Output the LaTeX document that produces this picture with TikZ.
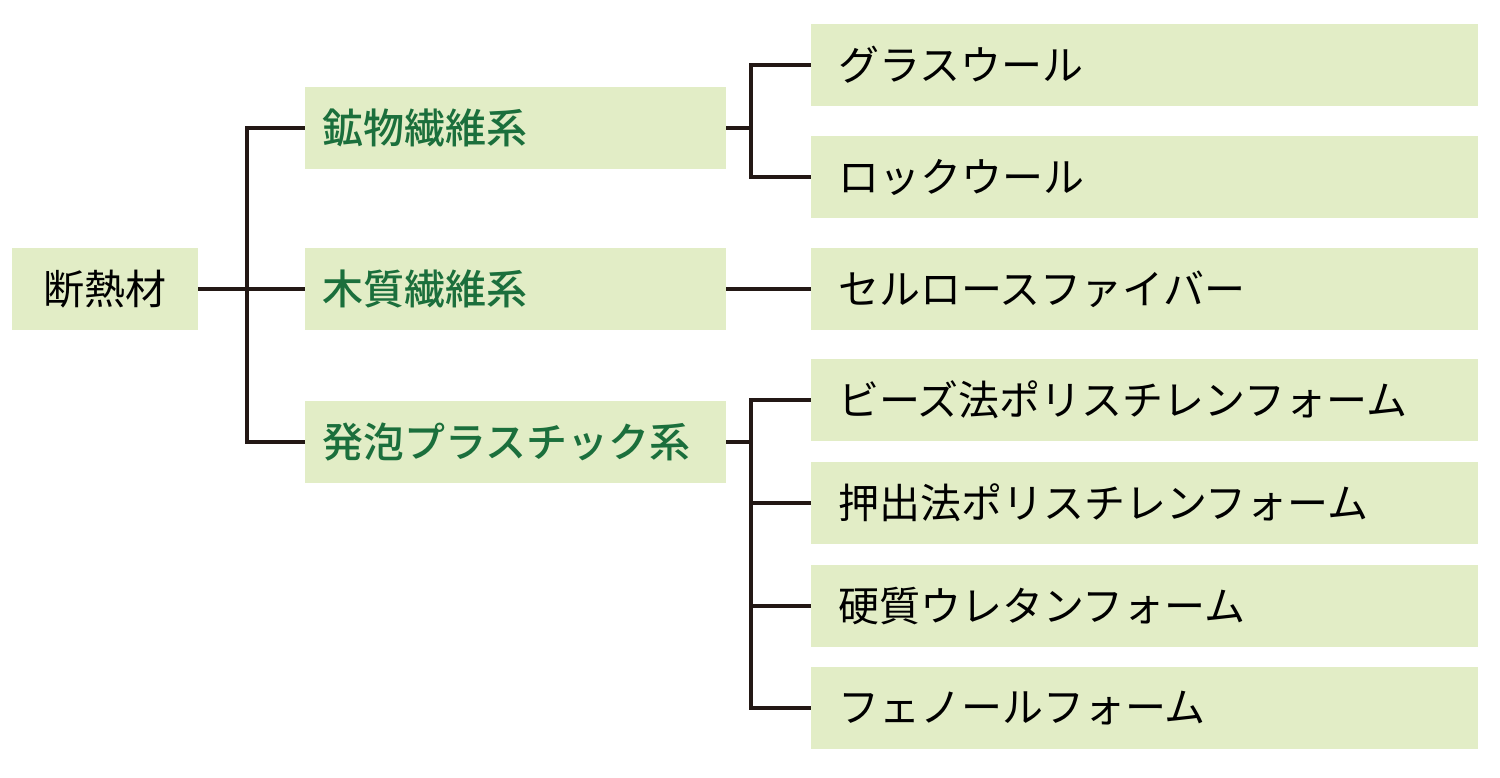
\documentclass[tikz,border=0pt]{standalone}
\usepackage{fontspec}
\newfontfamily\jpfont{Noto Sans CJK JP}
\newfontfamily\jpmedfont{Noto Sans CJK JP}[UprightFont=* Medium]
\usetikzlibrary{positioning}

\definecolor{boxgreen}{HTML}{E2EDC6}
\definecolor{textgreen}{HTML}{1B6F3C}
\definecolor{linedark}{HTML}{231815}

\begin{document}
\begin{tikzpicture}[x=1pt,y=-1pt,
    box/.style={fill=boxgreen,minimum height=82pt,inner sep=0pt,
      font=\jpfont\fontsize{41}{50}\selectfont},
    rootbox/.style={box,minimum width=186pt},
    midbox/.style={box,text width=387pt,inner xsep=17pt,align=left,
      text=textgreen,font=\jpmedfont\fontsize{41}{50}\selectfont},
    leafbox/.style={box,text width=613pt,inner xsep=27pt,align=left},
    link/.style={draw=linedark,line width=3.2pt}]
  \useasboundingbox (0,0) rectangle (1500,778);

  % boxes
  \node[rootbox] (root) at (105,289) {断熱材};
  \node[midbox] (mineral) at (515.5,128) {鉱物繊維系};
  \node[midbox] (wood) at (515.5,289) {木質繊維系};
  \node[midbox] (foam) at (515.5,442) {発泡プラスチック系};

  \node[leafbox] (glass) at (1144.5,65) {グラスウール};
  \node[leafbox] (rock) at (1144.5,177) {ロックウール};
  \node[leafbox] (cellu) at (1144.5,289) {セルロースファイバー};
  \node[leafbox] (beads) at (1144.5,400) {ビーズ法ポリスチレンフォーム};
  \node[leafbox] (extr) at (1144.5,503) {押出法ポリスチレンフォーム};
  \node[leafbox] (ureth) at (1144.5,606) {硬質ウレタンフォーム};
  \node[leafbox] (phenol) at (1144.5,708) {フェノールフォーム};

  % junctions
  \coordinate (j0) at (247,289);
  \coordinate (j1) at (751,128);
  \coordinate (j3) at (751,442);

  % connectors
  \draw[link] (root.east) -- (wood.west);
  \draw[link] (mineral.west) -| (j0) |- (foam.west);
  \draw[link] (mineral.east) -- (j1);
  \draw[link] (glass.west) -| (j1) |- (rock.west);
  \draw[link] (wood.east) -- (cellu.west);
  \draw[link] (foam.east) -- (j3);
  \draw[link] (beads.west) -| (j3) |- (phenol.west);
  \draw[link] (extr.west) -- (extr.west -| j3);
  \draw[link] (ureth.west) -- (ureth.west -| j3);
\end{tikzpicture}
\end{document}
